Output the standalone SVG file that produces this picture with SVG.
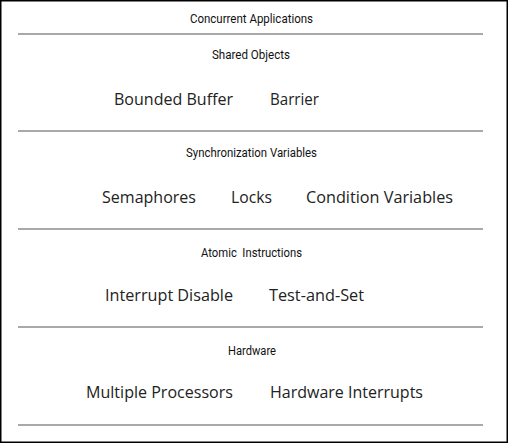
<svg xmlns="http://www.w3.org/2000/svg" width="508" height="443" viewBox="0 0 508 443">
<style>
.t{font-family:Roboto,"Liberation Sans",sans-serif;font-size:12px;fill:#111}
.b{font-family:"Open Sans","Noto Sans",sans-serif;font-size:16.8px;fill:#222}
.sep{stroke:#555;stroke-width:1.2}
</style>
<rect x="0.75" y="0.75" width="506.5" height="441.5" fill="#fff" stroke="#000" stroke-width="1.5"/>
<g id="separators">
<line class="sep" x1="18" y1="34" x2="483" y2="34"/>
<line class="sep" x1="18" y1="131" x2="483" y2="131"/>
<line class="sep" x1="18" y1="229" x2="483" y2="229"/>
<line class="sep" x1="18" y1="327" x2="483" y2="327"/>
<line class="sep" x1="18" y1="425" x2="483" y2="425"/>
</g>
<g id="concurrent-applications">
<text class="t" x="190" y="23" textLength="123" lengthAdjust="spacingAndGlyphs">Concurrent Applications</text>
</g>
<g id="shared-objects">
<text class="t" x="212" y="59" textLength="78" lengthAdjust="spacingAndGlyphs">Shared Objects</text>
<text class="b" x="114" y="105" textLength="119" lengthAdjust="spacingAndGlyphs">Bounded Buffer</text>
<text class="b" x="270" y="105" textLength="49" lengthAdjust="spacingAndGlyphs">Barrier</text>
</g>
<g id="synchronization-variables">
<text class="t" x="186" y="157" textLength="131" lengthAdjust="spacingAndGlyphs">Synchronization Variables</text>
<text class="b" x="102" y="203" textLength="94" lengthAdjust="spacingAndGlyphs">Semaphores</text>
<text class="b" x="231" y="203" textLength="41" lengthAdjust="spacingAndGlyphs">Locks</text>
<text class="b" x="306" y="203" textLength="147" lengthAdjust="spacingAndGlyphs">Condition Variables</text>
</g>
<g id="atomic-instructions">
<text class="t" x="201" y="257" textLength="101" lengthAdjust="spacingAndGlyphs" xml:space="preserve">Atomic  Instructions</text>
<text class="b" x="105" y="301" textLength="128" lengthAdjust="spacingAndGlyphs">Interrupt Disable</text>
<text class="b" x="269" y="301" textLength="95" lengthAdjust="spacingAndGlyphs">Test-and-Set</text>
</g>
<g id="hardware">
<text class="t" x="228" y="355" textLength="48" lengthAdjust="spacingAndGlyphs">Hardware</text>
<text class="b" x="86" y="398" textLength="147" lengthAdjust="spacingAndGlyphs">Multiple Processors</text>
<text class="b" x="270" y="398" textLength="153" lengthAdjust="spacingAndGlyphs">Hardware Interrupts</text>
</g>
</svg>
